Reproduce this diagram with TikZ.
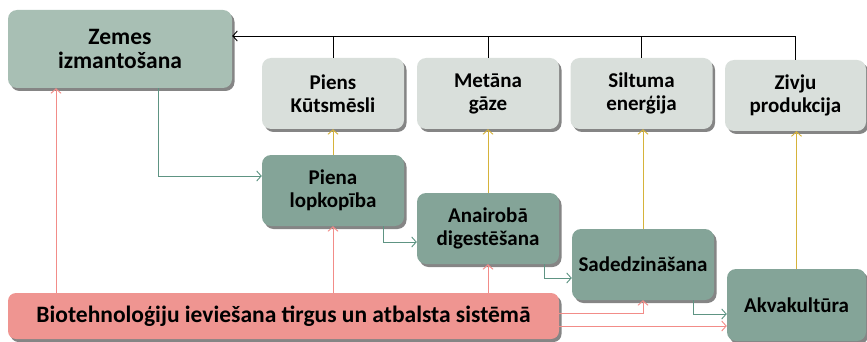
\documentclass[tikz,border=0pt]{standalone}
\usepackage{fontspec}
\setmainfont{Carlito}
\usepackage{xcolor}
\usepackage{tikz}
\usetikzlibrary{arrows.meta,positioning,shadows,calc}
\definecolor{landgreen}{HTML}{A8BFB4}
\definecolor{procgreen}{HTML}{84A498}
\definecolor{outgray}{HTML}{D9DFDB}
\definecolor{biopink}{HTML}{EF9591}
\definecolor{flowgreen}{HTML}{5E9483}
\definecolor{flowyellow}{HTML}{D6B33A}
\definecolor{flowpink}{HTML}{F28C88}

\begin{document}
\begin{tikzpicture}[x=1pt, y=-1pt,
  every node/.style={font=\bfseries\fontsize{21}{23}\selectfont},
  big/.style={font=\bfseries\fontsize{23.5}{23.5}\selectfont},
  box/.style={rounded corners=9pt, align=center, inner sep=2pt,
              minimum width=142pt, minimum height=71pt,
              drop shadow={shadow xshift=2.5pt, shadow yshift=-3pt,
                           opacity=.6, fill=black!80}},
  tip/.style={-{Straight Barb[length=4.5pt, width=10pt]}, line width=.9pt},
  gr/.style={tip, draw=flowgreen},
  ye/.style={tip, draw=flowyellow},
  pk/.style={tip, draw=flowpink}]
  \useasboundingbox (0,0) rectangle (867,342);
  % sources and products
  \node[box, big, fill=landgreen, minimum width=224pt, minimum height=78pt]
    (zemes) at (120,49) {Zemes\\izmantošana};
  \node[box, fill=outgray] (piens)   at (333,93.5)   {Piens\\Kūtsmēsli};
  \node[box, fill=outgray] (metana)  at (488,93.5)   {Metāna\\gāze};
  \node[box, fill=outgray] (siltuma) at (641.5,93.5) {Siltuma\\enerģija};
  \node[box, fill=outgray, minimum width=141pt] (zivju) at (795.5,95.5)
    {Zivju\\produkcija};
  % processes
  \node[box, fill=procgreen] (piena)  at (333,190.5) {Piena\\lopkopība};
  \node[box, fill=procgreen] (anaer)  at (488,228.5) {Anairobā\\digestēšana};
  \node[box, fill=procgreen] (sadedz) at (643,264.5) {Sadedzināšana};
  \node[box, fill=procgreen, minimum width=139pt, minimum height=72pt] (akva)
    at (796.5,305) {Akvakultūra};
  \node[box, big, fill=biopink, minimum width=551pt, minimum height=46pt,
        rounded corners=8pt] (bio)
    at (283.5,316) {Biotehnoloģiju ieviešana tirgus un atbalsta sistēmā};
  % returns to land use
  \coordinate (top) at (0,36);
  \draw[tip, draw=black] (zivju.north) -- (zivju.north |- top)
    -- (zemes.east |- top);
  \foreach \n in {piens, metana, siltuma}
    \draw[line width=.9pt] (\n.north) -- (\n.north |- top);
  % process chain
  \draw[gr] ([xshift=38]zemes.south) |- ([yshift=14.5]piena.west);
  \draw[gr] ([xshift=50]piena.south) |- ([yshift=-13.5]anaer.west);
  \draw[gr] ([xshift=56]anaer.south) |- ([yshift=-13.5]sadedz.west);
  \draw[gr] ([xshift=50]sadedz.south) |- ([yshift=-9]akva.west);
  % products
  \draw[ye] (piena.north) -- (piens.south);
  \draw[ye] (anaer.north) -- (metana.south);
  \draw[ye] (sadedz.north) -- (sadedz.north |- siltuma.south);
  \draw[ye] (akva.north) -- (akva.north |- zivju.south);
  % support system
  \draw[pk] ([xshift=-227.5]bio.north) -- ([xshift=-227.5]bio.north |- zemes.south);
  \draw[pk] (piena.south |- bio.north) -- (piena.south);
  \draw[pk] (anaer.south |- bio.north) -- (anaer.south);
  \draw[pk] ([yshift=3]bio.east) -| (sadedz.south);
  \draw[pk] ([yshift=-10]bio.east) -- ([yshift=-10]bio.east -| akva.west);
\end{tikzpicture}
\end{document}
